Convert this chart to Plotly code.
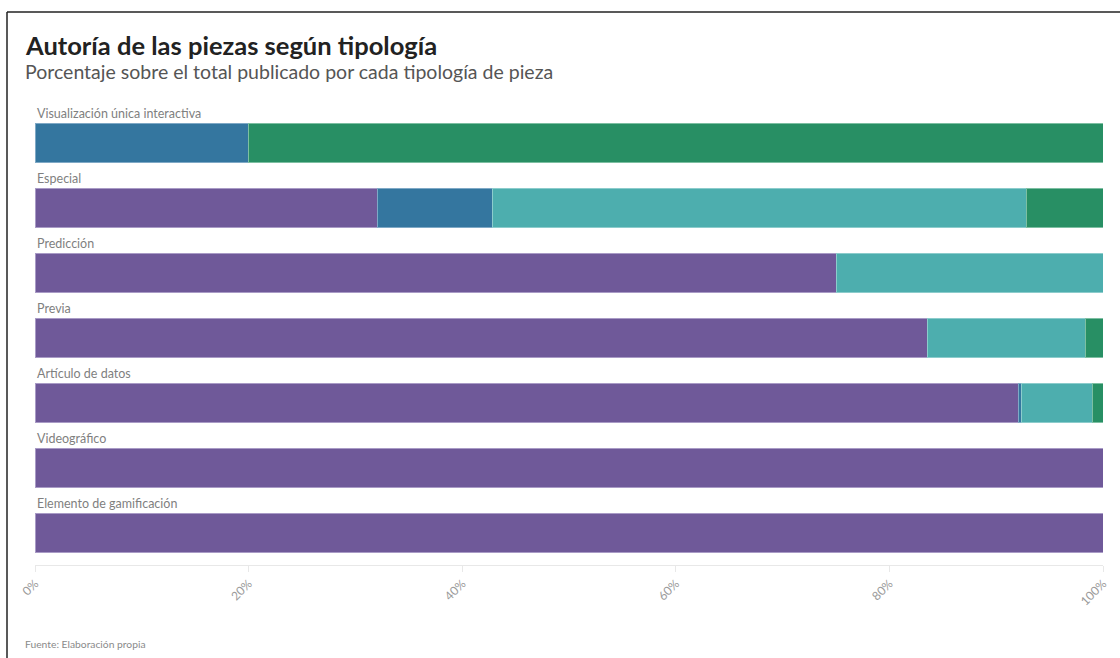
import plotly.graph_objects as go

categories = [
    "Visualización única interactiva",
    "Especial",
    "Predicción",
    "Previa",
    "Artículo de datos",
    "Videográfico",
    "Elemento de gamificación",
]

series_names = ["Periodistas", "Equipo de diseño", "Equipo mixto", "Colaboración externa"]
series_values = [
    [0, 32.1, 75.0, 83.6, 92.1, 100, 100],
    [20.0, 10.7, 0, 0, 0.3, 0, 0],
    [0, 50.0, 25.0, 14.8, 6.6, 0, 0],
    [80.0, 7.2, 0, 1.6, 1.0, 0, 0],
]
series_colors = ["#6f5999", "#34769f", "#4daeae", "#288f64"]
series_borders = ["#a99bc6", "#7fa9c6", "#8ccccc", "#7dbfa2"]

tick_vals = [0, 20, 40, 60, 80, 100]
tick_text = ["0%", "20%", "40%", "60%", "80%", "100%"]

FONT = "Lato"

fig = go.Figure()
for name, vals, col, bcol in zip(series_names, series_values, series_colors, series_borders):
    fig.add_trace(
        go.Bar(
            y=categories,
            x=vals,
            name=name,
            orientation="h",
            marker={"color": col, "line": {"color": bcol, "width": 1}},
            hovertemplate="%{y}<br>" + name + ": %{x:.1f}%<extra></extra>",
        )
    )

# etiqueta de cada categoria encima de su barra
for cat in categories:
    fig.add_annotation(
        x=0, y=cat, xref="x", yref="y",
        text=cat, showarrow=False,
        xanchor="left", yanchor="bottom", yshift=20,
        font={"family": FONT, "size": 12.5, "color": "#7f7f7f"},
    )

L, R, T, B = 35, 17, 110, 93
W, H = 1120, 658
pw, ph = W - L - R, H - T - B


def px_x(px):
    return (px - L) / pw


def px_y(py):
    return (H - B - py) / ph


fig.add_annotation(
    x=px_x(23), y=px_y(45), xref="paper", yref="paper",
    text="<b>Autoría de las piezas según tipología</b>", showarrow=False,
    xanchor="left", yanchor="middle",
    font={"family": FONT, "size": 25.5, "color": "#222222"},
)
fig.add_annotation(
    x=px_x(23), y=px_y(71), xref="paper", yref="paper",
    text="Porcentaje sobre el total publicado por cada tipología de pieza", showarrow=False,
    xanchor="left", yanchor="middle",
    font={"family": FONT, "size": 19.5, "color": "#555555"},
)
fig.add_annotation(
    x=px_x(23), y=px_y(644), xref="paper", yref="paper",
    text="Fuente: Elaboración propia", showarrow=False,
    xanchor="left", yanchor="middle",
    font={"family": FONT, "size": 10.3, "color": "#8a8a8a"},
)

# marco superior e izquierdo
fig.add_shape(type="line", xref="paper", yref="paper",
              x0=px_x(7), x1=px_x(1125), y0=px_y(12), y1=px_y(12),
              line={"color": "#222222", "width": 1.5})
fig.add_shape(type="line", xref="paper", yref="paper",
              x0=px_x(7), x1=px_x(7), y0=px_y(12), y1=px_y(665),
              line={"color": "#222222", "width": 1.5})

fig.update_layout(
    barmode="stack",
    bargap=0.4,
    width=W,
    height=H,
    margin={"l": L, "r": R, "t": T, "b": B, "autoexpand": False},
    paper_bgcolor="white",
    plot_bgcolor="white",
    showlegend=False,
    font={"family": FONT},
    xaxis={
        "range": [0, 100],
        "tickvals": tick_vals,
        "ticktext": tick_text,
        "tickangle": -45,
        "tickfont": {"family": FONT, "size": 12, "color": "#9a9a9a"},
        "showgrid": False,
        "zeroline": False,
        "showline": True,
        "linecolor": "#e8e8e8",
        "ticks": "outside",
        "ticklen": 6,
        "tickcolor": "#e8e8e8",
        "automargin": False,
        "fixedrange": True,
    },
    yaxis={
        "range": [len(categories) - 0.5, -0.5],
        "showticklabels": False,
        "showgrid": False,
        "zeroline": False,
        "automargin": False,
        "fixedrange": True,
    },
)

# sin margen del body para que la figura ocupe la ventana desde (0, 0)
fig.write_html(
    "out.html",
    config={"displayModeBar": False},
    post_script="document.body.style.margin='0px';document.body.style.overflow='hidden';",
)
